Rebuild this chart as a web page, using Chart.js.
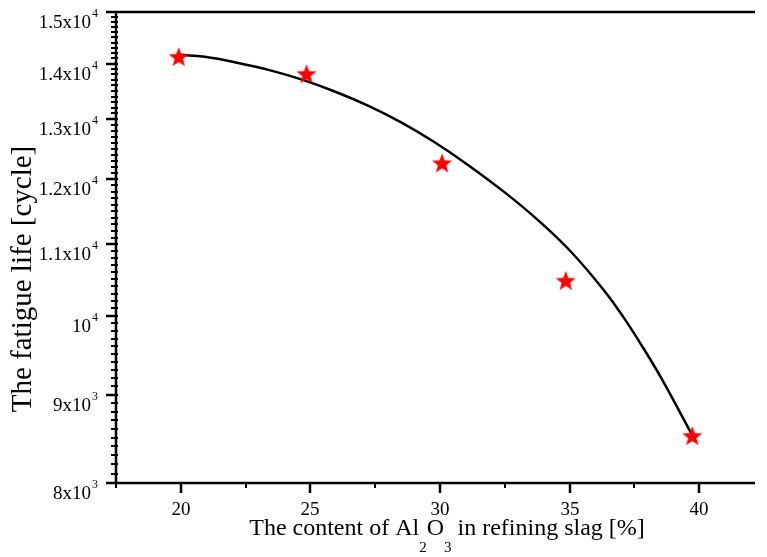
<!DOCTYPE html>
<html>
<head>
<meta charset="utf-8">
<script src="https://cdn.jsdelivr.net/npm/chart.js@4/dist/chart.umd.min.js"></script>
<style>
  html, body { margin: 0; padding: 0; background: #fff; }
  #wrap { width: 767px; height: 557px; }
</style>
</head>
<body>
<div id="wrap"><canvas id="chart"></canvas></div>
<script>
// measured points (red stars)
var measuredX = [19.92, 24.85, 30.08, 34.85, 39.73];
var measuredY = [14130, 13810, 12260, 10480, 8520];

// fitted curve
var fitX = [19.97, 20.92, 22.17, 23.42, 24.71, 25.96, 27.22, 28.5, 29.76, 31.01, 32.52, 33.81, 35.07, 36.32, 37.08, 37.83, 38.59, 39.73];
var fitY = [14167, 14129, 14019, 13881, 13700, 13485, 13236, 12944, 12614, 12251, 11783, 11351, 10885, 10347, 9979, 9585, 9171, 8525];

// axis ticks
var xTicks = [20, 25, 30, 35, 40];
var xMinorTicks = [17.5, 22.5, 27.5, 32.5, 37.5];
var yTicks = [8000, 9000, 10000, 11000, 12000, 13000, 14000, 15000];
var yTickBase = ['8x10', '9x10', '10', '1.1x10', '1.2x10', '1.3x10', '1.4x10', '1.5x10'];
var yTickExp = ['3', '3', '4', '4', '4', '4', '4', '4'];

var SERIF = '"Liberation Serif", "Times New Roman", serif';

function makeStar(size, color) {
    var c = document.createElement('canvas');
    c.width = size; c.height = size;
    var g = c.getContext('2d');
    var cx = size / 2, cy = size / 2 + 0.8;
    var ro = size / 2 - 0.5, ri = ro * 0.42;
    g.beginPath();
    for (var i = 0; i < 10; i++) {
        var r = i % 2 === 0 ? ro : ri;
        var a = -Math.PI / 2 + i * Math.PI / 5;
        var px = cx + r * Math.cos(a), py = cy + r * Math.sin(a);
        if (i === 0) g.moveTo(px, py); else g.lineTo(px, py);
    }
    g.closePath();
    g.fillStyle = color;
    g.fill();
    return c;
}

var starImg = makeStar(22, '#ff0000');

var axesPlugin = {
    id: 'axesPlugin',
    afterDraw: function(chart) {
        var ctx = chart.ctx;
        var xs = chart.scales.x, ys = chart.scales.y;
        var a = chart.chartArea;
        ctx.save();
        ctx.strokeStyle = '#000';
        ctx.fillStyle = '#000';

        // frame: left, bottom, top
        ctx.lineWidth = 2.5;
        ctx.beginPath();
        ctx.moveTo(a.left, a.top);
        ctx.lineTo(a.left, a.bottom);
        ctx.lineTo(a.right, a.bottom);
        ctx.stroke();
        ctx.beginPath();
        ctx.moveTo(a.left, a.top);
        ctx.lineTo(a.right, a.top);
        ctx.stroke();

        // y minor ticks every 100
        ctx.lineWidth = 2;
        for (var v = 8000; v <= 15000; v += 100) {
            var py = Math.round(ys.getPixelForValue(v));
            ctx.beginPath();
            ctx.moveTo(a.left - 5, py);
            ctx.lineTo(a.left + 2, py);
            ctx.stroke();
        }
        // y major ticks and labels
        for (var i = 0; i < yTicks.length; i++) {
            var py2 = Math.round(ys.getPixelForValue(yTicks[i]));
            ctx.lineWidth = 2.5;
            ctx.beginPath();
            ctx.moveTo(a.left - 10, py2);
            ctx.lineTo(a.left + 1, py2);
            ctx.stroke();

            ctx.font = '19px ' + SERIF;
            var wb = ctx.measureText(yTickBase[i]).width;
            ctx.font = '12px ' + SERIF;
            var we = ctx.measureText(yTickExp[i]).width;
            var right = 98;
            var xb = right - we - 1 - wb;
            ctx.textAlign = 'left';
            ctx.textBaseline = 'alphabetic';
            ctx.font = '19px ' + SERIF;
            ctx.fillText(yTickBase[i], xb, py2 + 16);
            ctx.font = '12px ' + SERIF;
            ctx.fillText(yTickExp[i], xb + wb + 1, py2 + 5);
        }

        // x ticks
        ctx.lineWidth = 2.5;
        for (var j = 0; j < xTicks.length; j++) {
            var px = Math.round(xs.getPixelForValue(xTicks[j]));
            ctx.beginPath();
            ctx.moveTo(px, a.bottom);
            ctx.lineTo(px, a.bottom + 10);
            ctx.stroke();
            ctx.font = '19px ' + SERIF;
            ctx.textAlign = 'center';
            ctx.fillText(String(xTicks[j]), px, a.bottom + 32);
        }
        ctx.lineWidth = 2;
        for (var k = 0; k < xMinorTicks.length; k++) {
            var pm = Math.round(xs.getPixelForValue(xMinorTicks[k]));
            ctx.beginPath();
            ctx.moveTo(pm, a.bottom);
            ctx.lineTo(pm, a.bottom + 5);
            ctx.stroke();
        }

        // x title with subscripts
        var parts = [
            ['The content of Al', 24, 0],
            ['2', 15, 17],
            ['O', 24, 0],
            ['3', 15, 17],
            [' in refining slag [%]', 24, 0]
        ];
        var total = 0;
        parts.forEach(function(p) {
            ctx.font = p[1] + 'px ' + SERIF;
            p.push(ctx.measureText(p[0]).width);
            total += p[3];
        });
        var tx = 447 - total / 2;
        ctx.textAlign = 'left';
        parts.forEach(function(p) {
            ctx.font = p[1] + 'px ' + SERIF;
            ctx.fillText(p[0], tx, 535 + p[2]);
            tx += p[3];
        });

        // y title
        ctx.save();
        ctx.translate(31, 279);
        ctx.rotate(-Math.PI / 2);
        ctx.font = '29px ' + SERIF;
        ctx.textAlign = 'center';
        ctx.fillText('The fatigue life [cycle]', 0, 0);
        ctx.restore();

        ctx.restore();
    }
};

var ctx = document.getElementById('chart').getContext('2d');

var fitData = fitX.map(function(x, i) { return {x: x, y: fitY[i]}; });
var starData = measuredX.map(function(x, i) { return {x: x, y: measuredY[i]}; });

var myChart = new Chart(ctx, {
    type: 'scatter',
    data: {
        datasets: [
            {
                label: 'Measured',
                data: starData,
                pointStyle: starImg,
                pointRadius: 11,
                showLine: false
            },
            {
                label: 'Fit',
                data: fitData,
                showLine: true,
                borderColor: '#000',
                borderWidth: 2.5,
                pointRadius: 0,
                tension: 0.4,
                fill: false
            }
        ]
    },
    options: {
        responsive: true,
        maintainAspectRatio: false,
        animation: false,
        layout: { padding: { left: 116, top: 10, right: 0, bottom: 74 } },
        plugins: {
            legend: { display: false },
            tooltip: { enabled: false }
        },
        scales: {
            x: { type: 'linear', min: 17.5, max: 42.15, display: false },
            y: { type: 'logarithmic', min: 8000, max: 15000, display: false }
        }
    },
    plugins: [axesPlugin]
});
</script>
</body>
</html>
